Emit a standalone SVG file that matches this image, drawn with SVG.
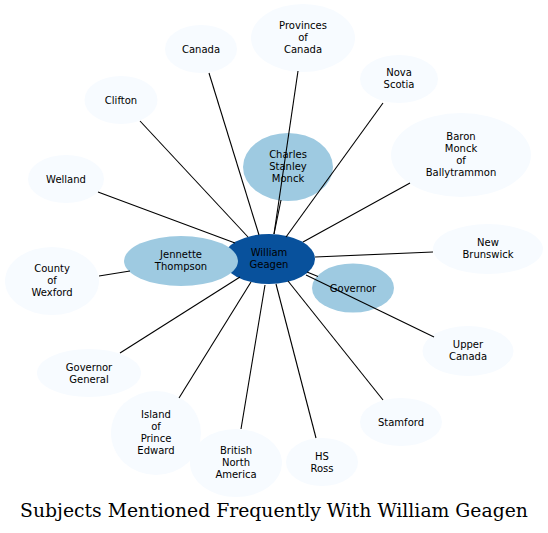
<svg xmlns="http://www.w3.org/2000/svg" width="548" height="533" viewBox="0 0 548 533">
<style>
.n text{font-family:"DejaVu Sans",sans-serif;font-size:10px;text-anchor:middle;fill:#000}
.l{fill:#f7fbff}
.m{fill:#9ecae1}
.d{fill:#08519c}
#edges line{stroke:#000;stroke-width:1.1}
.title{font-family:"DejaVu Serif",serif;font-size:18.8px;text-anchor:middle;fill:#000}
</style>
<rect width="548" height="533" fill="#fff"/>
<g id="nodes" class="n">
<g id="n-william"><ellipse class="d" cx="269" cy="259" rx="46" ry="25"/><text x="269" y="256">William</text><text x="269" y="268">Geagen</text></g>
<g id="n-jennette"><ellipse class="m" cx="181" cy="261" rx="57" ry="25"/><text x="181" y="258">Jennette</text><text x="181" y="270">Thompson</text></g>
<g id="n-csm"><ellipse class="m" cx="288" cy="167" rx="45" ry="34"/><text x="288" y="158">Charles</text><text x="288" y="170">Stanley</text><text x="288" y="182">Monck</text></g>
<g id="n-governor"><ellipse class="m" cx="353" cy="288" rx="41" ry="24.5"/><text x="353" y="291.5">Governor</text></g>
<g id="n-canada"><ellipse class="l" cx="201" cy="49" rx="36" ry="24"/><text x="201" y="52.5">Canada</text></g>
<g id="n-provinces"><ellipse class="l" cx="303" cy="38" rx="52" ry="34"/><text x="303" y="28.5">Provinces</text><text x="303" y="40.5">of</text><text x="303" y="52.5">Canada</text></g>
<g id="n-nova"><ellipse class="l" cx="399" cy="79" rx="39" ry="24"/><text x="399" y="76">Nova</text><text x="399" y="88">Scotia</text></g>
<g id="n-baron"><ellipse class="l" cx="461" cy="155" rx="70" ry="42"/><text x="461" y="139.5">Baron</text><text x="461" y="151.5">Monck</text><text x="461" y="163.5">of</text><text x="461" y="175.5">Ballytrammon</text></g>
<g id="n-newbrunswick"><ellipse class="l" cx="488" cy="249" rx="55" ry="25"/><text x="488" y="246">New</text><text x="488" y="258">Brunswick</text></g>
<g id="n-upper"><ellipse class="l" cx="468" cy="351" rx="45.5" ry="25"/><text x="468" y="348">Upper</text><text x="468" y="360">Canada</text></g>
<g id="n-stamford"><ellipse class="l" cx="401" cy="422" rx="41" ry="24"/><text x="401" y="425.5">Stamford</text></g>
<g id="n-hsross"><ellipse class="l" cx="322" cy="462" rx="36" ry="24"/><text x="322" y="459.5">HS</text><text x="322" y="471.5">Ross</text></g>
<g id="n-island"><ellipse class="l" cx="156" cy="433" rx="45" ry="42"/><text x="156" y="417.5">Island</text><text x="156" y="429.5">of</text><text x="156" y="441.5">Prince</text><text x="156" y="453.5">Edward</text></g>
<g id="n-bna"><ellipse class="l" cx="236" cy="463" rx="46" ry="34"/><text x="236" y="454">British</text><text x="236" y="466">North</text><text x="236" y="478">America</text></g>
<g id="n-govgeneral"><ellipse class="l" cx="89" cy="373" rx="52" ry="24"/><text x="89" y="371">Governor</text><text x="89" y="383">General</text></g>
<g id="n-wexford"><ellipse class="l" cx="52" cy="281" rx="47" ry="34"/><text x="52" y="272">County</text><text x="52" y="284">of</text><text x="52" y="296">Wexford</text></g>
<g id="n-welland"><ellipse class="l" cx="66" cy="179" rx="38" ry="24"/><text x="66" y="182.5">Welland</text></g>
<g id="n-clifton"><ellipse class="l" cx="121" cy="100" rx="36.5" ry="24"/><text x="121" y="103.5">Clifton</text></g>
</g>
<g id="edges">
<line x1="259" y1="235" x2="209" y2="73"/>
<line x1="274" y1="234" x2="298" y2="71"/>
<line x1="274" y1="234" x2="281" y2="200"/>
<line x1="286" y1="237" x2="383" y2="103"/>
<line x1="303" y1="242" x2="410" y2="183"/>
<line x1="315" y1="257" x2="433" y2="252"/>
<line x1="307" y1="272" x2="318" y2="276.5"/>
<line x1="306" y1="275" x2="434" y2="337"/>
<line x1="288" y1="281" x2="383" y2="400"/>
<line x1="276" y1="284" x2="316" y2="438"/>
<line x1="265" y1="285" x2="241" y2="429"/>
<line x1="251" y1="282" x2="179" y2="398"/>
<line x1="240" y1="277" x2="120" y2="353"/>
<line x1="130" y1="271" x2="99" y2="276"/>
<line x1="235" y1="243" x2="98" y2="192"/>
<line x1="248" y1="237" x2="140" y2="121"/>
</g>
<text class="title" x="274" y="517">Subjects Mentioned Frequently With William Geagen</text>
</svg>
